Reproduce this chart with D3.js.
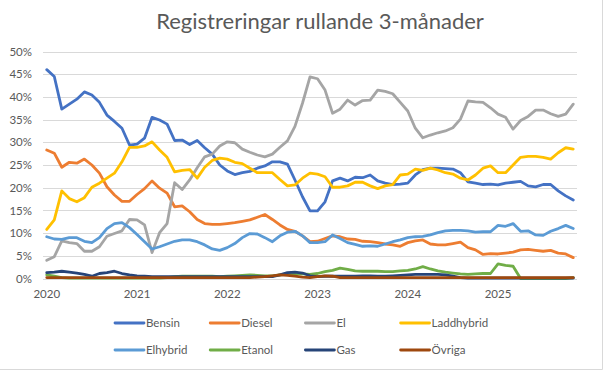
<!DOCTYPE html>
<html><head><meta charset="utf-8">
<script src="https://cdn.jsdelivr.net/npm/d3@7"></script>
<style>
html,body{margin:0;padding:0;background:#fff;}
svg{display:block;font-family:Lato,"Open Sans",sans-serif;}
</style></head>
<body><svg id="c" width="604" height="370"></svg>
<script>
const title = "Registreringar rullande 3-månader";
const years = ["2020","2021","2022","2023","2024","2025"];
const yTicks = [0,5,10,15,20,25,30,35,40,45,50];
const seriesNames = ["Bensin","Diesel","El","Laddhybrid","Elhybrid","Etanol","Gas","Övriga"];
const seriesColors = ["#4472C4","#ED7D31","#A5A5A5","#FFC000","#5B9BD5","#70AD47","#264478","#9E480E"];

const bensin = [46.0,44.5,37.3,38.4,39.5,41.1,40.4,38.8,36.0,34.6,33.1,29.4,29.6,30.9,35.5,34.9,34.0,30.4,
 30.5,29.5,30.4,28.8,27.4,25.0,23.7,22.9,23.3,23.6,24.3,24.8,25.7,25.7,25.2,21.7,18.0,14.9,
 14.9,16.9,21.5,22.1,21.5,22.3,22.2,22.8,21.5,21.0,20.7,20.8,21.0,22.8,24.0,24.3,24.3,24.2,
 24.1,23.3,21.3,21.0,20.7,20.8,20.6,21.0,21.2,21.4,20.4,20.2,20.7,20.7,19.3,18.2,17.3];
const diesel = [28.3,27.6,24.5,25.6,25.4,26.3,25.0,23.2,20.2,18.4,17.0,17.0,18.5,19.8,21.5,19.9,18.8,15.8,
 16.0,14.7,13.0,12.1,11.9,11.9,12.1,12.3,12.6,12.9,13.5,14.1,13.0,11.8,10.8,10.4,9.4,8.1,
 8.2,8.8,9.4,9.2,8.7,8.6,8.2,8.1,7.9,7.6,7.4,7.1,7.9,8.3,8.5,7.6,7.4,7.4,
 7.7,8.0,6.8,6.3,5.3,5.5,5.4,5.6,5.8,6.3,6.4,6.2,6.0,6.2,5.6,5.4,4.6];
const el = [4.0,4.8,8.3,7.9,7.7,6.0,6.0,7.0,9.3,9.9,10.5,13.0,12.9,11.8,5.7,10.1,12.1,21.1,
 19.6,21.7,24.4,26.8,27.4,29.2,30.1,29.9,28.5,27.8,27.2,26.8,27.4,28.9,30.3,33.5,38.6,44.4,
 44.0,41.5,36.4,37.3,39.3,38.2,39.2,39.3,41.5,41.2,40.7,38.8,36.9,33.1,31.0,31.6,32.1,32.5,
 33.2,35.1,39.1,38.9,38.8,37.6,36.2,35.5,32.9,34.8,35.7,37.1,37.1,36.3,35.7,36.2,38.4];
const laddhybrid = [10.8,12.9,19.3,17.6,16.9,17.8,20.1,21.0,22.1,23.2,25.7,28.9,28.9,29.2,30.1,28.3,26.7,23.5,
 23.8,24.0,22.1,24.5,26.0,26.5,26.3,25.6,25.3,24.3,23.3,23.3,23.3,21.8,20.4,20.6,22.1,23.2,
 23.0,22.4,20.1,20.1,20.4,21.2,21.2,20.4,19.8,20.4,20.7,22.8,23.0,24.1,23.8,24.3,23.9,23.3,
 23.0,22.1,21.7,22.8,24.3,24.8,23.3,23.3,25.0,26.7,26.9,26.9,26.7,26.3,27.7,28.8,28.5];
const elhybrid = [9.2,8.7,8.6,9.0,9.0,8.2,7.9,9.0,11.0,12.1,12.3,11.2,9.7,8.1,6.5,7.0,7.6,8.2,
 8.5,8.5,8.1,7.4,6.5,6.2,6.8,7.7,9.0,9.9,9.8,9.0,8.1,9.4,10.2,10.4,9.4,7.9,
 7.9,8.1,9.6,8.8,7.9,7.5,7.1,7.2,7.1,7.6,8.1,8.5,9.0,9.2,9.3,9.6,10.1,10.5,
 10.6,10.6,10.5,10.2,10.3,10.3,11.7,11.5,12.1,10.4,10.5,9.6,9.5,10.4,11.0,11.7,11.0];
const etanol = [0.8,0.5,0.2,0.1,0.1,0.1,0.1,0.1,0.1,0.1,0.1,0.1,0.1,0.1,0.1,0.1,0.2,0.4,
 0.5,0.5,0.5,0.5,0.5,0.4,0.5,0.6,0.7,0.8,0.7,0.6,0.6,0.8,1.0,1.1,1.0,0.9,
 1.1,1.5,1.8,2.3,2.0,1.7,1.6,1.6,1.6,1.5,1.5,1.7,1.8,2.1,2.6,2.1,1.7,1.4,
 1.2,1.0,0.9,1.0,1.1,1.1,3.2,2.9,2.7,0.0,0.0,0.0,0.0,0.0,0.0,0.0,0.2];
const gas = [1.3,1.4,1.6,1.4,1.2,0.9,0.5,1.1,1.3,1.6,1.1,0.8,0.6,0.5,0.4,0.4,0.4,0.4,
 0.4,0.4,0.4,0.4,0.4,0.4,0.4,0.4,0.4,0.4,0.4,0.4,0.4,0.8,1.3,1.4,1.2,0.6,
 0.4,0.5,0.5,0.5,0.5,0.5,0.6,0.6,0.5,0.5,0.6,0.7,0.8,0.9,0.9,0.9,0.9,0.8,
 0.5,0.2,0.1,0.1,0.1,0.1,0.1,0.1,0.1,0.1,0.1,0.1,0.1,0.1,0.1,0.1,0.1];
const ovriga = [0.2,0.2,0.2,0.2,0.2,0.2,0.2,0.2,0.2,0.2,0.2,0.2,0.2,0.2,0.2,0.2,0.2,0.2,
 0.2,0.2,0.2,0.2,0.2,0.2,0.2,0.2,0.2,0.2,0.3,0.4,0.6,0.8,0.7,0.5,0.3,0.2,
 0.4,0.6,0.5,0.2,0.2,0.2,0.2,0.2,0.2,0.2,0.2,0.2,0.2,0.2,0.2,0.2,0.2,0.2,
 0.2,0.2,0.2,0.2,0.2,0.2,0.2,0.2,0.2,0.2,0.2,0.2,0.2,0.2,0.2,0.2,0.2];

const allSeries = [bensin,diesel,el,laddhybrid,elhybrid,etanol,gas,ovriga];
// month categories Jan 2020 .. Nov 2025
const months = [];
years.forEach(y => { for (let m = 1; m <= 12; m++) months.push(y + "-" + String(m).padStart(2,"0")); });
months.length = bensin.length;

const svg = d3.select("#c");
const txt = "#595959";
const plot = {l:43, r:577, t:51.5, b:278.5};

const x = d3.scaleBand().domain(months).range([plot.l, plot.r]);
const xc = d => x(d) + x.bandwidth()/2;
const y = d3.scaleLinear().domain([0,50]).range([plot.b, plot.t]);

// title
svg.append("text").attr("x",320).attr("y",29).attr("text-anchor","middle")
  .attr("font-size",22).attr("fill",txt).text(title);

// gridlines
svg.append("g").selectAll("line").data(yTicks).join("line")
  .attr("x1",plot.l).attr("x2",plot.r)
  .attr("y1",d=>Math.round(y(d))+0.5).attr("y2",d=>Math.round(y(d))+0.5)
  .attr("stroke","#D9D9D9").attr("stroke-width",1);

// y axis labels
const yAxis = d3.axisLeft(y).tickValues(yTicks).tickSize(0).tickPadding(0).tickFormat(d=>d+"%");
const yg = svg.append("g").attr("transform","translate(32,0)").call(yAxis);
yg.select(".domain").remove();
yg.selectAll("text").attr("font-size",11.5).attr("fill",txt).attr("font-family","Lato");

// x axis labels
const xAxis = d3.axisBottom(x).tickValues(years.map(yv=>yv+"-01")).tickSize(0).tickPadding(0)
  .tickFormat(d=>d.slice(0,4));
const xg = svg.append("g").attr("transform","translate(0,290)").call(xAxis);
xg.select(".domain").remove();
xg.selectAll("text").attr("font-size",11.5).attr("fill",txt).attr("font-family","Lato");

// lines
const line = d3.line().x((d,i)=>xc(months[i])).y(d=>y(d));
allSeries.forEach((s,k)=>{
  svg.append("path").datum(s).attr("d",line).attr("fill","none")
    .attr("stroke",seriesColors[k]).attr("stroke-width",2.8)
    .attr("stroke-linejoin","round").attr("stroke-linecap","round");
});

// legend
const lg = svg.append("g");
seriesNames.forEach((n,k)=>{
  const col = k%4, row = Math.floor(k/4);
  const lx = 115 + col*95.2, ly = 323 + row*27;
  lg.append("line").attr("x1",lx).attr("x2",lx+29).attr("y1",ly).attr("y2",ly)
    .attr("stroke",seriesColors[k]).attr("stroke-width",2.8).attr("stroke-linecap","round");
  lg.append("text").attr("x",lx+31).attr("y",ly+4).attr("font-size",11.5).attr("fill",txt).text(n);
});

// chart border (right/bottom visible)
svg.append("line").attr("x1",602.5).attr("x2",602.5).attr("y1",0).attr("y2",369.5).attr("stroke","#D9D9D9");
svg.append("line").attr("x1",0).attr("x2",602.5).attr("y1",369.5).attr("y2",369.5).attr("stroke","#D9D9D9");
</script></body></html>
